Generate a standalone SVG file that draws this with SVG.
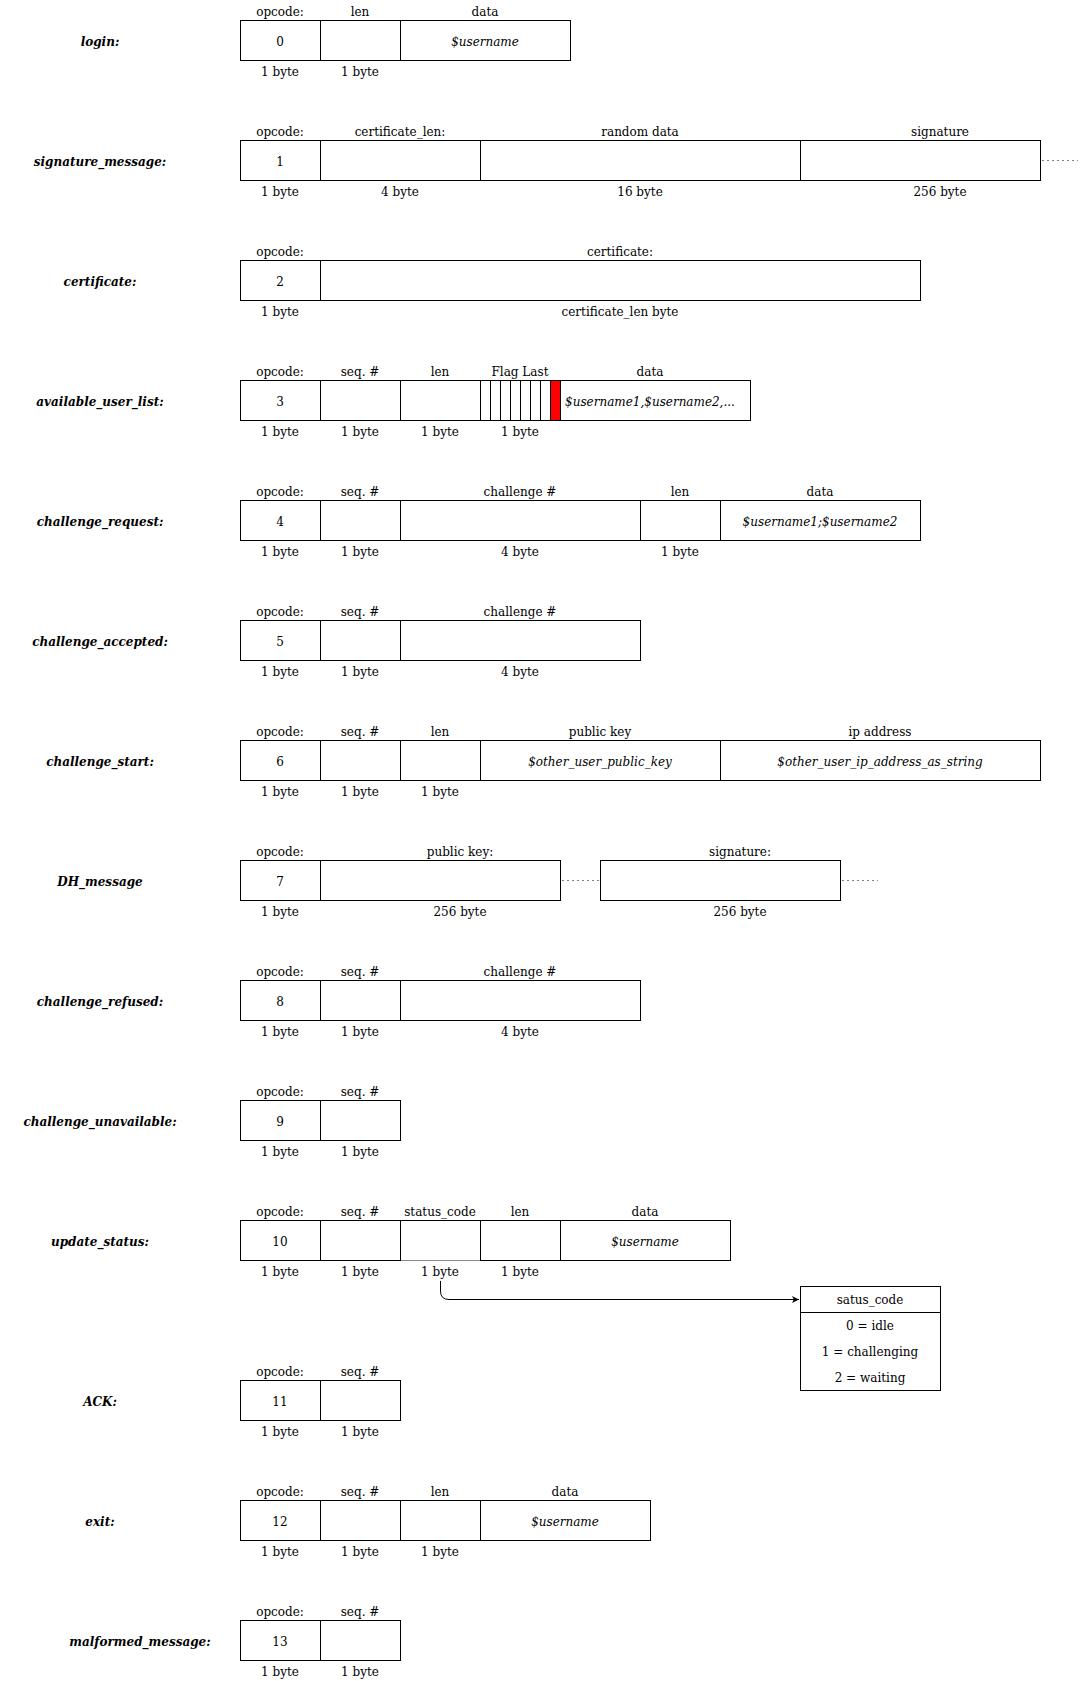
<svg xmlns="http://www.w3.org/2000/svg" width="1082" height="1681" viewBox="0 0 1082 1681">
<style>
text{font-family:"DejaVu Serif","Liberation Serif",serif;font-size:12px;fill:#000;text-anchor:middle}
.n{font-weight:bold;font-style:italic}
.i{font-style:italic}
.c{fill:#fff;stroke:#000;stroke-width:1}
.r{fill:#ff0000;stroke:#000;stroke-width:1}
.d{stroke:#808080;stroke-width:1;stroke-dasharray:2 3;fill:none}
</style>
<defs>
<marker id="ah" markerWidth="8" markerHeight="8" refX="7" refY="4" orient="auto" markerUnits="userSpaceOnUse">
<path d="M0,0.5 L7,4 L0,7.5 L1.8,4 Z" fill="#000"/>
</marker>
</defs>
<rect width="1082" height="1681" fill="#fff"/>

<g id="login">
<text class="n" x="100" y="45.5">login:</text>
<rect class="c" x="240.5" y="20.5" width="80" height="40"/><rect class="c" x="320.5" y="20.5" width="80" height="40"/><rect class="c" x="400.5" y="20.5" width="170" height="40"/>
<text x="280" y="45.5">0</text><text class="i" x="485" y="45.5">$username</text>
<text x="280" y="15.5">opcode:</text><text x="360" y="15.5">len</text><text x="485" y="15.5">data</text>
<text x="280" y="75.5">1 byte</text><text x="360" y="75.5">1 byte</text>
</g>

<g id="signature_message">
<text class="n" x="100" y="165.5">signature_message:</text>
<rect class="c" x="240.5" y="140.5" width="80" height="40"/><rect class="c" x="320.5" y="140.5" width="160" height="40"/><rect class="c" x="480.5" y="140.5" width="320" height="40"/><rect class="c" x="800.5" y="140.5" width="240" height="40"/>
<text x="280" y="165.5">1</text>
<text x="280" y="135.5">opcode:</text><text x="400" y="135.5">certificate_len:</text><text x="640" y="135.5">random data</text><text x="940" y="135.5">signature</text>
<text x="280" y="195.5">1 byte</text><text x="400" y="195.5">4 byte</text><text x="640" y="195.5">16 byte</text><text x="940" y="195.5">256 byte</text>
</g>

<g id="certificate">
<text class="n" x="100" y="285.5">certificate:</text>
<rect class="c" x="240.5" y="260.5" width="80" height="40"/><rect class="c" x="320.5" y="260.5" width="600" height="40"/>
<text x="280" y="285.5">2</text>
<text x="280" y="255.5">opcode:</text><text x="620" y="255.5">certificate:</text>
<text x="280" y="315.5">1 byte</text><text x="620" y="315.5">certificate_len byte</text>
</g>

<g id="available_user_list">
<text class="n" x="100" y="405.5">available_user_list:</text>
<rect class="c" x="240.5" y="380.5" width="80" height="40"/><rect class="c" x="320.5" y="380.5" width="80" height="40"/><rect class="c" x="400.5" y="380.5" width="80" height="40"/>
<rect class="c" x="480.5" y="380.5" width="10" height="40"/><rect class="c" x="490.5" y="380.5" width="10" height="40"/><rect class="c" x="500.5" y="380.5" width="10" height="40"/><rect class="c" x="510.5" y="380.5" width="10" height="40"/><rect class="c" x="520.5" y="380.5" width="10" height="40"/><rect class="c" x="530.5" y="380.5" width="10" height="40"/><rect class="c" x="540.5" y="380.5" width="10" height="40"/><rect class="r" x="550.5" y="380.5" width="10" height="40"/>
<rect class="c" x="560.5" y="380.5" width="190" height="40"/>
<text x="280" y="405.5">3</text><text class="i" x="650" y="405.5">$username1,$username2,...</text>
<text x="280" y="375.5">opcode:</text><text x="360" y="375.5">seq. #</text><text x="440" y="375.5">len</text><text x="520" y="375.5">Flag Last</text><text x="650" y="375.5">data</text>
<text x="280" y="435.5">1 byte</text><text x="360" y="435.5">1 byte</text><text x="440" y="435.5">1 byte</text><text x="520" y="435.5">1 byte</text>
</g>

<g id="challenge_request">
<text class="n" x="100" y="525.5">challenge_request:</text>
<rect class="c" x="240.5" y="500.5" width="80" height="40"/><rect class="c" x="320.5" y="500.5" width="80" height="40"/><rect class="c" x="400.5" y="500.5" width="240" height="40"/><rect class="c" x="640.5" y="500.5" width="80" height="40"/><rect class="c" x="720.5" y="500.5" width="200" height="40"/>
<text x="280" y="525.5">4</text><text class="i" x="820" y="525.5">$username1;$username2</text>
<text x="280" y="495.5">opcode:</text><text x="360" y="495.5">seq. #</text><text x="520" y="495.5">challenge #</text><text x="680" y="495.5">len</text><text x="820" y="495.5">data</text>
<text x="280" y="555.5">1 byte</text><text x="360" y="555.5">1 byte</text><text x="520" y="555.5">4 byte</text><text x="680" y="555.5">1 byte</text>
</g>

<g id="challenge_accepted">
<text class="n" x="100" y="645.5">challenge_accepted:</text>
<rect class="c" x="240.5" y="620.5" width="80" height="40"/><rect class="c" x="320.5" y="620.5" width="80" height="40"/><rect class="c" x="400.5" y="620.5" width="240" height="40"/>
<text x="280" y="645.5">5</text>
<text x="280" y="615.5">opcode:</text><text x="360" y="615.5">seq. #</text><text x="520" y="615.5">challenge #</text>
<text x="280" y="675.5">1 byte</text><text x="360" y="675.5">1 byte</text><text x="520" y="675.5">4 byte</text>
</g>

<g id="challenge_start">
<text class="n" x="100" y="765.5">challenge_start:</text>
<rect class="c" x="240.5" y="740.5" width="80" height="40"/><rect class="c" x="320.5" y="740.5" width="80" height="40"/><rect class="c" x="400.5" y="740.5" width="80" height="40"/><rect class="c" x="480.5" y="740.5" width="240" height="40"/><rect class="c" x="720.5" y="740.5" width="320" height="40"/>
<text x="280" y="765.5">6</text><text class="i" x="600" y="765.5">$other_user_public_key</text><text class="i" x="880" y="765.5">$other_user_ip_address_as_string</text>
<text x="280" y="735.5">opcode:</text><text x="360" y="735.5">seq. #</text><text x="440" y="735.5">len</text><text x="600" y="735.5">public key</text><text x="880" y="735.5">ip address</text>
<text x="280" y="795.5">1 byte</text><text x="360" y="795.5">1 byte</text><text x="440" y="795.5">1 byte</text>
</g>

<g id="DH_message">
<text class="n" x="100" y="885.5">DH_message</text>
<rect class="c" x="240.5" y="860.5" width="80" height="40"/><rect class="c" x="320.5" y="860.5" width="240" height="40"/><rect class="c" x="600.5" y="860.5" width="240" height="40"/>
<text x="280" y="885.5">7</text>
<text x="280" y="855.5">opcode:</text><text x="460" y="855.5">public key:</text><text x="740" y="855.5">signature:</text>
<text x="280" y="915.5">1 byte</text><text x="460" y="915.5">256 byte</text><text x="740" y="915.5">256 byte</text>
</g>

<g id="challenge_refused">
<text class="n" x="100" y="1005.5">challenge_refused:</text>
<rect class="c" x="240.5" y="980.5" width="80" height="40"/><rect class="c" x="320.5" y="980.5" width="80" height="40"/><rect class="c" x="400.5" y="980.5" width="240" height="40"/>
<text x="280" y="1005.5">8</text>
<text x="280" y="975.5">opcode:</text><text x="360" y="975.5">seq. #</text><text x="520" y="975.5">challenge #</text>
<text x="280" y="1035.5">1 byte</text><text x="360" y="1035.5">1 byte</text><text x="520" y="1035.5">4 byte</text>
</g>

<g id="challenge_unavailable">
<text class="n" x="100" y="1125.5">challenge_unavailable:</text>
<rect class="c" x="240.5" y="1100.5" width="80" height="40"/><rect class="c" x="320.5" y="1100.5" width="80" height="40"/>
<text x="280" y="1125.5">9</text>
<text x="280" y="1095.5">opcode:</text><text x="360" y="1095.5">seq. #</text>
<text x="280" y="1155.5">1 byte</text><text x="360" y="1155.5">1 byte</text>
</g>

<g id="update_status">
<text class="n" x="100" y="1245.5">update_status:</text>
<rect class="c" x="240.5" y="1220.5" width="80" height="40"/><rect class="c" x="320.5" y="1220.5" width="80" height="40"/><rect class="c" x="400.5" y="1220.5" width="80" height="40"/><rect class="c" x="480.5" y="1220.5" width="80" height="40"/><rect class="c" x="560.5" y="1220.5" width="170" height="40"/>
<line x1="401" y1="1260.5" x2="480" y2="1260.5" stroke="#8a8a8a" stroke-width="1"/>
<text x="280" y="1245.5">10</text><text class="i" x="645" y="1245.5">$username</text>
<text x="280" y="1215.5">opcode:</text><text x="360" y="1215.5">seq. #</text><text x="440" y="1215.5">status_code</text><text x="520" y="1215.5">len</text><text x="645" y="1215.5">data</text>
<text x="280" y="1275.5">1 byte</text><text x="360" y="1275.5">1 byte</text><text x="440" y="1275.5">1 byte</text><text x="520" y="1275.5">1 byte</text>
</g>

<g id="status_code_table">
<rect class="c" x="800.5" y="1286.5" width="140" height="104"/>
<line x1="800.5" y1="1312.5" x2="940.5" y2="1312.5" stroke="#000" stroke-width="1"/>
<text x="870" y="1304">satus_code</text>
<text x="870" y="1330">0 = idle</text>
<text x="870" y="1356">1 = challenging</text>
<text x="870" y="1382">2 = waiting</text>
</g>

<g id="ACK">
<text class="n" x="100" y="1405.5">ACK:</text>
<rect class="c" x="240.5" y="1380.5" width="80" height="40"/><rect class="c" x="320.5" y="1380.5" width="80" height="40"/>
<text x="280" y="1405.5">11</text>
<text x="280" y="1375.5">opcode:</text><text x="360" y="1375.5">seq. #</text>
<text x="280" y="1435.5">1 byte</text><text x="360" y="1435.5">1 byte</text>
</g>

<g id="exit">
<text class="n" x="100" y="1525.5">exit:</text>
<rect class="c" x="240.5" y="1500.5" width="80" height="40"/><rect class="c" x="320.5" y="1500.5" width="80" height="40"/><rect class="c" x="400.5" y="1500.5" width="80" height="40"/><rect class="c" x="480.5" y="1500.5" width="170" height="40"/>
<text x="280" y="1525.5">12</text><text class="i" x="565" y="1525.5">$username</text>
<text x="280" y="1495.5">opcode:</text><text x="360" y="1495.5">seq. #</text><text x="440" y="1495.5">len</text><text x="565" y="1495.5">data</text>
<text x="280" y="1555.5">1 byte</text><text x="360" y="1555.5">1 byte</text><text x="440" y="1555.5">1 byte</text>
</g>

<g id="malformed_message">
<text class="n" x="140" y="1645.5">malformed_message:</text>
<rect class="c" x="240.5" y="1620.5" width="80" height="40"/><rect class="c" x="320.5" y="1620.5" width="80" height="40"/>
<text x="280" y="1645.5">13</text>
<text x="280" y="1615.5">opcode:</text><text x="360" y="1615.5">seq. #</text>
<text x="280" y="1675.5">1 byte</text><text x="360" y="1675.5">1 byte</text>
</g>

<g id="connectors">
<line class="d" x1="1042" y1="160.5" x2="1078" y2="160.5"/>
<line class="d" x1="562" y1="880.5" x2="599" y2="880.5"/>
<line class="d" x1="842" y1="880.5" x2="878" y2="880.5"/>
<path d="M440.5,1281 V1291 Q440.5,1299.5 449,1299.5 H799" fill="none" stroke="#000" stroke-width="1" marker-end="url(#ah)"/>
</g>
</svg>
